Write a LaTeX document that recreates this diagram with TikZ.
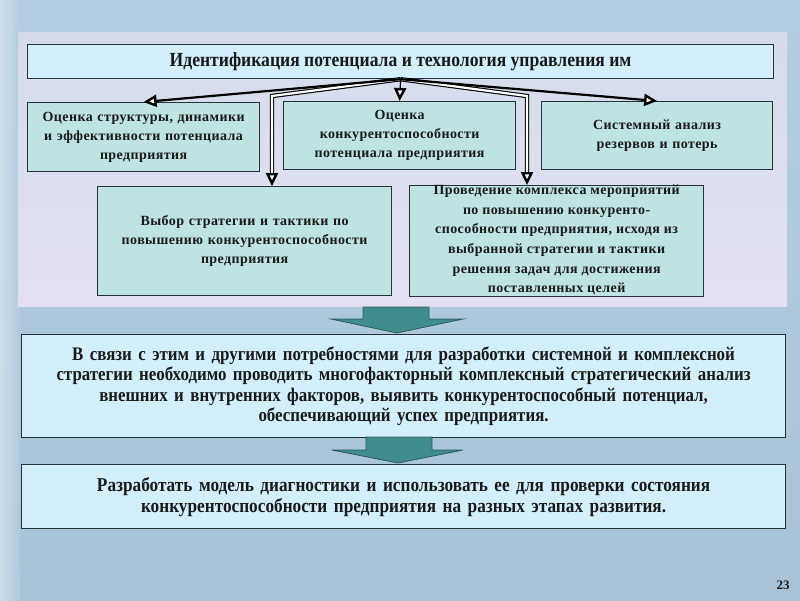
\documentclass[tikz,border=0pt]{standalone}
\usepackage{fontspec}
\setmainfont{Liberation Serif}
\newfontfamily\widef[LetterSpace=3]{Liberation Serif}
\newfontfamily\narf[FakeStretch=0.88]{Liberation Serif}
\usetikzlibrary{arrows.meta,calc}
\definecolor{bgtop}{HTML}{B4CCE0}
\definecolor{bgbot}{HTML}{A8C3D7}
\definecolor{panel}{HTML}{E3E1F1}
\definecolor{panelTop}{HTML}{D4DCEC}
\definecolor{lightfill}{HTML}{D3EFFB}
\definecolor{tealfill}{HTML}{BFE2E2}
\definecolor{edge}{HTML}{263238}
\definecolor{arrowteal}{HTML}{3F8E8C}
\definecolor{arrowedge}{HTML}{2B5A5A}
\definecolor{ink}{HTML}{1A1A1A}
\tikzset{
  x=1pt, y=-1pt,
  boxbase/.style={draw=edge, line width=1.2pt, anchor=north west, inner sep=2pt,
     align=center, text=ink, font=\bfseries},
  topbox/.style={boxbase, fill=lightfill, font=\narf\bfseries\fontsize{20}{22}\selectfont},
  upbox/.style={boxbase, fill=tealfill, font=\widef\bfseries\fontsize{14}{19}\selectfont},
  lowbox/.style={boxbase, fill=lightfill, font=\narf\bfseries\fontsize{19.2}{20.5}\selectfont},
  tipA/.tip={Triangle[length=13pt,width=12pt,fill=white,line width=2.4pt]},
  thickarr/.style={draw=black, line width=2.2pt, -tipA},
  dblarr/.style={draw=black, line width=1.1pt, double=white, double distance=2.2pt, -tipA},
  blockarr/.style={fill=arrowteal, draw=arrowedge, line width=0.8pt, line join=miter}
}
\begin{document}
\begin{tikzpicture}
% background
\shade[top color=bgtop, bottom color=bgbot] (0,0) rectangle (800,600);
\shade[left color=white!55!bgtop, right color=bgtop, opacity=0.7] (0,0) rectangle (20,600);
\shade[top color=panelTop, bottom color=panel] (18,32) rectangle (787,306);
\useasboundingbox (0,0) rectangle (800,600);

% title
\node[topbox, minimum width=746pt, minimum height=34pt] (title) at (27,44)
  {Идентификация потенциала и технология управления им};

% upper boxes
\node[upbox, minimum width=232pt, minimum height=69pt, text width=226pt] (A) at (27,102)
  {Оценка структуры, динамики\\и эффективности потенциала\\предприятия};
\node[upbox, minimum width=232pt, minimum height=68pt, text width=226pt] (B) at (283,101)
  {Оценка\\конкурентоспособности\\потенциала предприятия};
\node[upbox, minimum width=231pt, minimum height=68pt, text width=225pt] (C) at (541,101)
  {Системный анализ\\резервов и потерь};
\node[upbox, minimum width=294pt, minimum height=109pt, text width=288pt] (D) at (97,186)
  {Выбор стратегии и тактики по\\повышению конкурентоспособности\\предприятия};
\node[boxbase, fill=tealfill, minimum width=294pt, minimum height=111pt] (E) at (409,185) {};
\node[font=\widef\bfseries\fontsize{14}{19.6}\selectfont, text=ink, align=center, inner sep=0pt]
  (Et) at ([yshift=1pt]E.center)
  {Проведение комплекса мероприятий\\по повышению конкуренто-\\способности предприятия, исходя из\\выбранной стратегии и тактики\\решения задач для достижения\\поставленных целей};

% lower boxes
\node[lowbox, minimum width=764pt, minimum height=103pt, text width=756pt] (F) at (21,334)
  {В связи с этим и другими потребностями для разработки системной и комплексной\\стратегии необходимо проводить многофакторный комплексный стратегический анализ\\внешних и внутренних факторов, выявить конкурентоспособный потенциал,\\обеспечивающий успех предприятия.};
\node[lowbox, minimum width=764pt, minimum height=64pt, text width=756pt,
  font=\narf\bfseries\fontsize{19.6}{21}\selectfont] (G) at (21,464)
  {Разработать модель диагностики и использовать ее для проверки состояния\\конкурентоспособности предприятия на разных этапах развития.};

% connectors
\coordinate (kD) at (272,96);
\coordinate (kE) at (527,96);
\draw[dblarr] (title.south) -- (kD) -- (kD |- D.north);
\draw[dblarr] (title.south) -- (kE) -- (kE |- E.north);
\draw[thickarr] (title.south) -- (A.north);
\draw[thickarr] (title.south) -- (C.north);
\draw[thickarr, line width=1.2pt] (title.south) -- (B.north);

% block arrows
\draw[blockarr] (363,307) -- (429,307) -- (429,319) -- (463,319) -- (397,333)
  -- (331,319) -- (363,319) -- cycle;
\draw[blockarr] (366,437) -- (432,437) -- (432,450) -- (463,450) -- (398,463)
  -- (332,450) -- (366,450) -- cycle;

% page number
\node[font=\bfseries\fontsize{13}{15}\selectfont, text=ink] (pg) at (783,585) {23};
\end{tikzpicture}
\end{document}
